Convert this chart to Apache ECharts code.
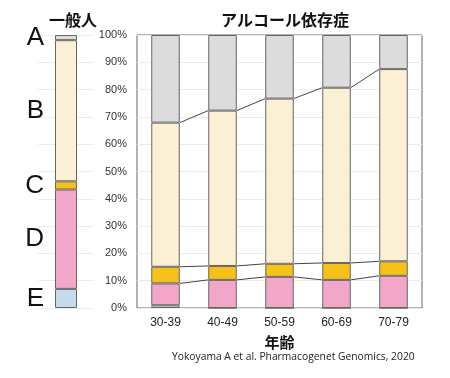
<!DOCTYPE html>
<html>
<head>
<meta charset="utf-8">
<script src="https://cdn.jsdelivr.net/npm/echarts@6/dist/echarts.min.js"></script>
<style>
  html, body { margin: 0; padding: 0; background: #fff; }
  #chart { width: 450px; height: 378px; }
</style>
</head>
<body>
<div id="chart"></div>
<script>
// 一般人 (general population), one stacked bar
const generalLabels = ['A', 'B', 'C', 'D', 'E']
const generalValues = [1.9, 51.7, 3.0, 36.4, 7.0] // A..E

// アルコール依存症 by age
const ages = ['30-39', '40-49', '50-59', '60-69', '70-79']
const valuesE = [1.0, 0, 0, 0, 0]
const valuesD = [8.0, 10.3, 11.4, 10.3, 11.8]
const valuesC = [6.1, 5.1, 4.8, 6.2, 5.3]
const valuesB = [52.8, 56.9, 60.5, 64.2, 70.4]
const valuesA = [32.1, 27.7, 23.3, 19.3, 12.5]

const yTicks = [0, 10, 20, 30, 40, 50, 60, 70, 80, 90, 100]

const colors = {
  A: '#dcdcdc',
  B: '#fcf0d4',
  C: '#f5c21b',
  D: '#f2a7c8',
  E: '#c6dcec',
}

const font = '"Liberation Sans", "Noto Sans CJK JP", sans-serif'
const edge = { borderColor: '#666', borderWidth: 1 }

// cumulative tops for the connector lines
const topD = ages.map((_, i) => valuesE[i] + valuesD[i])
const topC = ages.map((_, i) => topD[i] + valuesC[i])
const topB = ages.map((_, i) => topC[i] + valuesB[i])

const chart = echarts.init(document.getElementById('chart'))

// left panel: bottom-first order E, D, C, B, A
const generalSeries = ['E', 'D', 'C', 'B', 'A'].map((k) => {
  const idx = generalLabels.indexOf(k)
  return {
    name: 'g' + k,
    type: 'bar',
    stack: 'general',
    xAxisIndex: 0,
    yAxisIndex: 0,
    barWidth: 22,
    data: [generalValues[idx]],
    itemStyle: { color: colors[k], ...edge },
    label: {
      show: true,
      position: 'left',
      distance: 11,
      formatter: k,
      fontSize: 26,
      fontFamily: '"Liberation Sans", sans-serif',
      color: '#111',
    },
  }
})

const mainData = { E: valuesE, D: valuesD, C: valuesC, B: valuesB, A: valuesA }
const mainSeries = ['E', 'D', 'C', 'B', 'A'].map((k) => ({
  name: k,
  type: 'bar',
  stack: 'main',
  xAxisIndex: 1,
  yAxisIndex: 1,
  barWidth: '50%',
  data: mainData[k],
  itemStyle: { color: colors[k], ...edge },
}))

const connectors = {
  type: 'custom',
  xAxisIndex: 1,
  yAxisIndex: 1,
  data: ages.slice(0, -1).map((_, i) => [i, topB[i]]),
  z: 5,
  silent: true,
  renderItem: (params, api) => {
    const i = params.dataIndex
    const half = api.size([1, 0])[0] * 0.25
    const children = [topD, topC, topB].map((arr) => {
      const p1 = api.coord([i, arr[i]])
      const p2 = api.coord([i + 1, arr[i + 1]])
      return {
        type: 'line',
        shape: { x1: p1[0] + half, y1: p1[1], x2: p2[0] - half, y2: p2[1] },
        style: { stroke: '#444', lineWidth: 1 },
      }
    })
    return { type: 'group', children }
  },
}

chart.setOption({
  animation: false,
  textStyle: { fontFamily: font },
  title: [
    {
      text: '一般人',
      left: 68,
      top: 9,
      textAlign: 'center',
      textStyle: { fontSize: 16, fontWeight: 'bold', color: '#111', fontFamily: font },
    },
    {
      text: 'アルコール依存症',
      left: 280,
      top: 9,
      textAlign: 'center',
      textStyle: { fontSize: 16, fontWeight: 'bold', color: '#111', fontFamily: font },
    },
  ],
  grid: [
    { left: 38, width: 56, top: 35, height: 273 },
    { left: 137, width: 285, top: 35, height: 273, show: true, borderColor: '#666', borderWidth: 1 },
  ],
  xAxis: [
    {
      gridIndex: 0,
      type: 'category',
      data: ['一般人'],
      axisLine: { show: false },
      axisTick: { show: false },
      axisLabel: { show: false },
    },
    {
      gridIndex: 1,
      type: 'category',
      data: ages,
      axisLine: { show: false },
      axisTick: { show: false },
      axisLabel: { color: '#222', fontSize: 12, margin: 9 },
      name: '年齢',
      nameLocation: 'middle',
      nameGap: 28,
      nameTextStyle: { fontSize: 15, fontWeight: 'bold', color: '#111' },
    },
  ],
  yAxis: [
    {
      gridIndex: 0,
      type: 'value',
      min: yTicks[0],
      max: yTicks[yTicks.length - 1],
      interval: 10,
      axisLine: { show: false },
      axisTick: { show: false },
      axisLabel: { show: false },
      splitLine: { lineStyle: { color: '#ececec' } },
    },
    {
      gridIndex: 1,
      type: 'value',
      min: yTicks[0],
      max: yTicks[yTicks.length - 1],
      interval: 10,
      axisLine: { show: false },
      axisTick: { show: false },
      axisLabel: { formatter: '{value}%', color: '#333', fontSize: 11, margin: 10 },
      splitLine: { lineStyle: { color: '#ececec' } },
    },
  ],
  graphic: [
    {
      type: 'text',
      left: 172,
      top: 352,
      style: {
        text: 'Yokoyama A et al. Pharmacogenet Genomics, 2020',
        font: '10.3px "Open Sans", sans-serif',
        fill: '#222',
      },
    },
  ],
  series: [...generalSeries, ...mainSeries, connectors],
})
</script>
</body>
</html>
